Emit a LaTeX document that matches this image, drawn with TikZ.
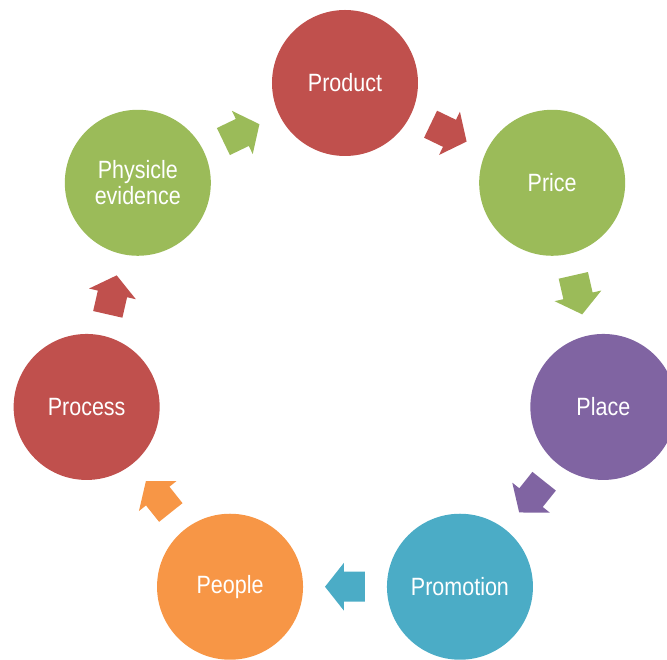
\documentclass[tikz,border=0pt]{standalone}
\usepackage{fontspec}
\setmainfont{Liberation Sans}[FakeStretch=0.86]
\usetikzlibrary{calc}
\definecolor{cred}{HTML}{C0504D}
\definecolor{cgreen}{HTML}{9BBB59}
\definecolor{cpurple}{HTML}{8064A2}
\definecolor{cteal}{HTML}{4BACC6}
\definecolor{corange}{HTML}{F79646}
\begin{document}
\begin{tikzpicture}[x=1pt,y=1pt,
  circ/.style={circle, minimum size=146pt, inner sep=0pt, text=white,
    font=\fontsize{25}{26}\selectfont, align=center},
  barrow/.pic={\fill (-20,-15) -- (1,-15) -- (1,-24) -- (20,0) -- (1,24) -- (1,15) -- (-20,15) -- cycle;}]
\useasboundingbox (-345,-312) rectangle (322,348);
\clip (-345,-312) rectangle (322,348);
\def\R{265}
\node[circ, fill=cred]    (product)   at (90:\R) {Product};
\node[circ, fill=cgreen]  (price)     at ({90-360/7}:\R) {Price};
\node[circ, fill=cpurple] (place)     at ({90-2*360/7}:\R) {Place};
\node[circ, fill=cteal]   (promotion) at ({90-3*360/7}:\R) {Promotion};
\node[circ, fill=corange] (people)    at ({90-4*360/7}:\R) {People};
\node[circ, fill=cred]    (process)   at ({90-5*360/7}:\R) {Process};
\node[circ, fill=cgreen]  (physicle)  at ({90-6*360/7}:\R) {Physicle\\evidence};
\foreach \a/\b/\c/\k in {product/price/cred/0, price/place/cgreen/1, place/promotion/cpurple/2,
  promotion/people/cteal/3, people/process/corange/4, process/physicle/cred/5, physicle/product/cgreen/6}{
  \coordinate (m\k) at ($(\a)!0.5!(\b)$);
  \pic[fill=\c, rotate={-(\k+0.5)*360/7}] at (m\k) {barrow};
}
\end{tikzpicture}
\end{document}
